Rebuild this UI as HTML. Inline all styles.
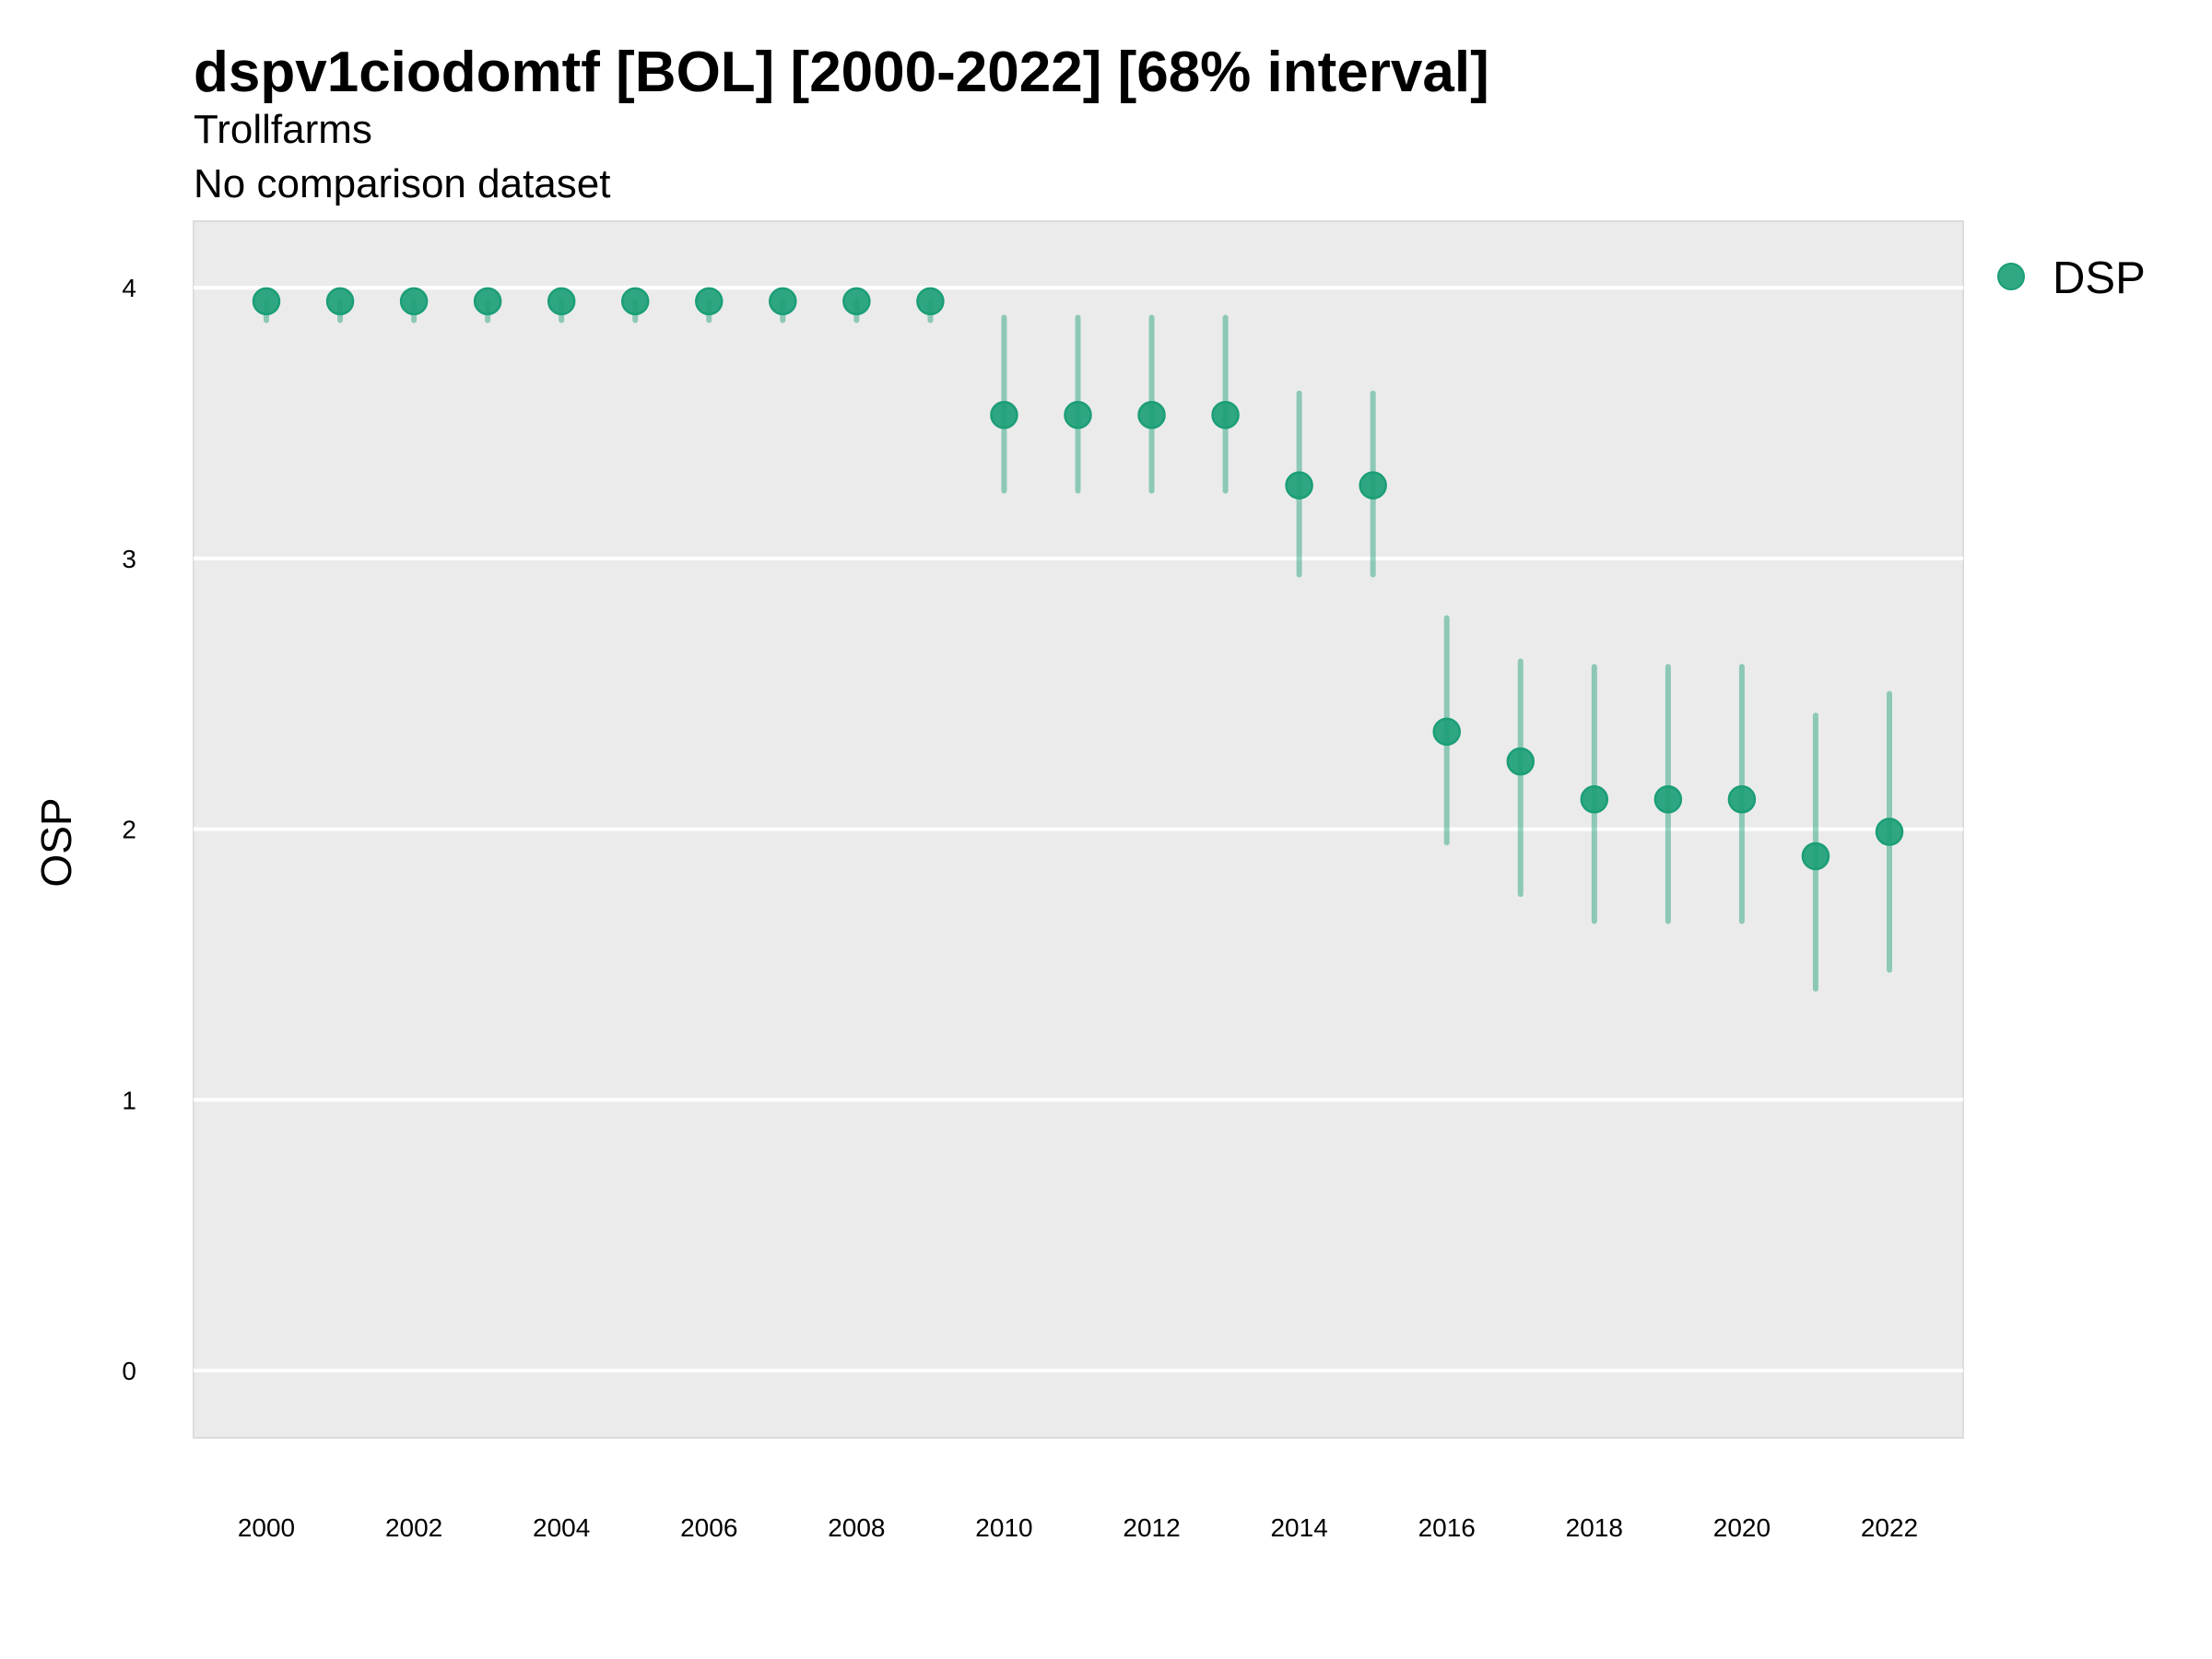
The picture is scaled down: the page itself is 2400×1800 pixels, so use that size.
<!DOCTYPE html>
<html><head><meta charset="utf-8"><style>
html,body{margin:0;padding:0;background:#fff;}
svg{display:block;font-family:"Liberation Sans",sans-serif;}
</style></head><body>
<svg id="chart" width="2400" height="1800" viewBox="0 0 2400 1800">
<text x="210" y="99" font-size="62" font-weight="bold">dspv1ciodomtf [BOL] [2000-2022] [68% interval]</text>
<text x="210" y="155" font-size="44">Trollfarms</text>
<text x="210" y="214" font-size="44">No comparison dataset</text>
<rect x="210" y="240" width="1920" height="1320" fill="#ebebeb" stroke="#dcdcdc" stroke-width="2"/>
<g id="grid"></g>
<g id="yticks"></g>
<g id="xticks"></g>
<g id="bars"></g>
<g id="points"></g>
<text transform="translate(77,914) rotate(-90)" font-size="46" text-anchor="middle">OSP</text>
<circle cx="2182" cy="300" r="14" fill="#1b9e77" fill-opacity="0.9" stroke="#1b9e77" stroke-width="2"/>
<text x="2227" y="318" font-size="49">DSP</text>
</svg>
<script>
const years=[2000,2001,2002,2003,2004,2005,2006,2007,2008,2009,2010,2011,2012,2013,2014,2015,2016,2017,2018,2019,2020,2021,2022];
const means=[3.95,3.95,3.95,3.95,3.95,3.95,3.95,3.95,3.95,3.95,3.53,3.53,3.53,3.53,3.27,3.27,2.36,2.25,2.11,2.11,2.11,1.90,1.99];
const lows=[3.88,3.88,3.88,3.88,3.88,3.88,3.88,3.88,3.88,3.88,3.25,3.25,3.25,3.25,2.94,2.94,1.95,1.76,1.66,1.66,1.66,1.41,1.48];
const highs=[3.95,3.95,3.95,3.95,3.95,3.95,3.95,3.95,3.95,3.95,3.89,3.89,3.89,3.89,3.61,3.61,2.78,2.62,2.60,2.60,2.60,2.42,2.50];
const yTicks=[0,1,2,3,4];
const xTicks=[2000,2002,2004,2006,2008,2010,2012,2014,2016,2018,2020,2022];
const NS='http://www.w3.org/2000/svg';
function X(v){return 289+(v-2000)*(2050-289)/22;}
function Y(v){return 1487-v*293.7;}
function mk(tag,attrs,parent){const e=document.createElementNS(NS,tag);for(const k in attrs)e.setAttribute(k,attrs[k]);document.getElementById(parent).appendChild(e);return e;}
yTicks.forEach(t=>{
 const l=mk('line',{x1:210,x2:2130,y1:Y(t),y2:Y(t),stroke:'#fff','stroke-width':4},'grid');
 
 
 const tx=mk('text',{x:148,y:Y(t)+10,'font-size':28,'text-anchor':'end'},'yticks');
 tx.textContent=t;
 
 
});
xTicks.forEach(t=>{
 const tx=mk('text',{x:X(t),y:1667,'font-size':28,'text-anchor':'middle'},'xticks');
 tx.textContent=t;
 
 
});
years.forEach((yr,i)=>{
 const b=mk('line',{x1:X(yr),x2:X(yr),y1:Y(lows[i]),y2:Y(highs[i]),stroke:'#1b9e77','stroke-opacity':0.45,'stroke-width':6,'stroke-linecap':'round'},'bars');
 
 
 const c=mk('circle',{cx:X(yr),cy:Y(means[i]),r:14,fill:'#1b9e77','fill-opacity':0.9,stroke:'#1b9e77','stroke-width':2.5},'points');
 
 
});
</script>
</body></html>
